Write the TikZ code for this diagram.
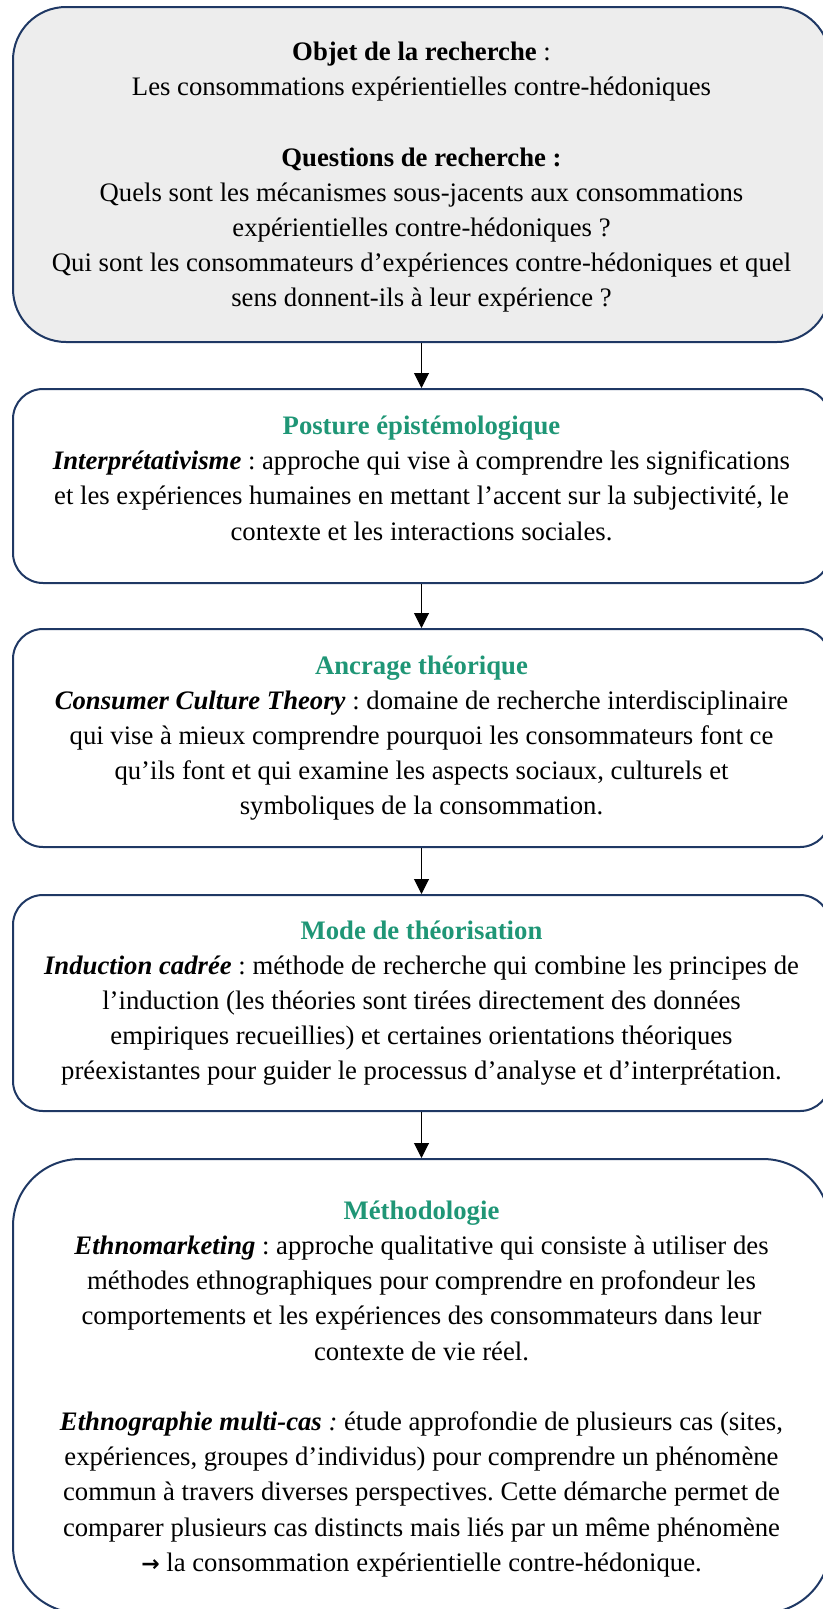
\documentclass[tikz,border=0pt]{standalone}
\usepackage{fontspec}
\setmainfont{Liberation Serif}
\newfontfamily\flechefont{DejaVu Sans}
\usepackage{xcolor}
\usetikzlibrary{arrows.meta, positioning}
\definecolor{cadrebleu}{RGB}{31,56,100}
\definecolor{titrevert}{RGB}{31,150,118}
\definecolor{fondgris}{RGB}{237,237,237}
\frenchspacing

\begin{document}
\begin{tikzpicture}[x=1pt, y=-1pt,
    etape/.style={draw=cadrebleu, line width=2pt, align=center, inner sep=0pt,
      minimum width=817pt, rounded corners=30pt,
      font=\fontsize{26.7}{35.2}\selectfont},
    fleche/.style={-{Triangle[length=15pt, width=15pt]}, line width=1pt, black}]
  \useasboundingbox (0,0) rectangle (822,1609);
  % Objet et questions de recherche
  \node[etape, fill=fondgris, rounded corners=53pt, minimum height=335pt, text depth=0pt] (objet) at (421.5,174.5) {%
    \textbf{Objet de la recherche} :\\
    Les consommations expérientielles contre-hédoniques\\[35.2pt]
    \textbf{Questions de recherche :}\\
    Quels sont les mécanismes sous-jacents aux consommations\\
    expérientielles contre-hédoniques ?\\
    Qui sont les consommateurs d’expériences contre-hédoniques et quel\\
    sens donnent-ils à leur expérience ?};
  % Posture
  \node[etape, minimum height=194pt, text depth=16pt] (posture) at (421.5,486) {%
    \textbf{\textcolor{titrevert}{Posture épistémologique}}\\
    \textbf{\textit{Interprétativisme}} : approche qui vise à comprendre les significations\\
    et les expériences humaines en mettant l’accent sur la subjectivité, le\\
    contexte et les interactions sociales.};
  % Ancrage
  \node[etape, minimum height=218pt] (ancrage) at (421.5,738) {%
    \textbf{\textcolor{titrevert}{Ancrage théorique}}\\
    \textbf{\textit{Consumer Culture Theory}} : domaine de recherche interdisciplinaire\\
    qui vise à mieux comprendre pourquoi les consommateurs font ce\\
    qu’ils font et qui examine les aspects sociaux, culturels et\\
    symboliques de la consommation.};
  % Mode de theorisation
  \node[etape, minimum height=216pt] (mode) at (421.5,1003) {%
    \textbf{\textcolor{titrevert}{Mode de théorisation}}\\
    \textbf{\textit{Induction cadrée}} : méthode de recherche qui combine les principes de\\
    l’induction (les théories sont tirées directement des données\\
    empiriques recueillies) et certaines orientations théoriques\\
    préexistantes pour guider le processus d’analyse et d’interprétation.};
  % Methodologie
  \node[etape, rounded corners=67pt, minimum height=454pt, text depth=-4pt] (methodo) at (421.5,1386) {%
    \textbf{\textcolor{titrevert}{Méthodologie}}\\
    \textbf{\textit{Ethnomarketing}} : approche qualitative qui consiste à utiliser des\\
    méthodes ethnographiques pour comprendre en profondeur les\\
    comportements et les expériences des consommateurs dans leur\\
    contexte de vie réel.\\[35.2pt]
    \textbf{\textit{Ethnographie multi-cas}}\textit{ :} étude approfondie de plusieurs cas (sites,\\
    expériences, groupes d’individus) pour comprendre un phénomène\\
    commun à travers diverses perspectives. Cette démarche permet de\\
    comparer plusieurs cas distincts mais liés par un même phénomène\\
    {\flechefont\bfseries\fontsize{22}{35.2}\selectfont →} la consommation expérientielle contre-hédonique.};
  % Fleches
  \draw[fleche] (objet) -- (posture);
  \draw[fleche] (posture) -- (ancrage);
  \draw[fleche] (ancrage) -- (mode);
  \draw[fleche] (mode) -- (methodo);
\end{tikzpicture}
\end{document}
